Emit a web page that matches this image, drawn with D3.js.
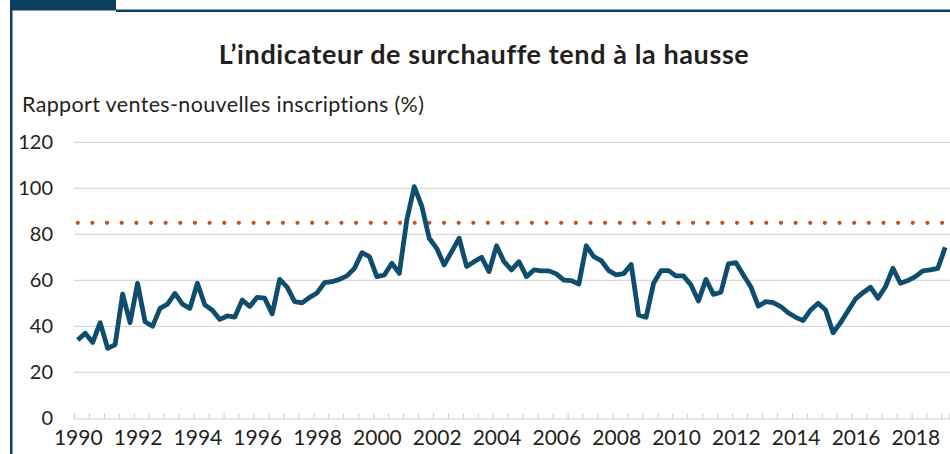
<!DOCTYPE html>
<html>
<head>
<meta charset="utf-8">
<script src="https://cdn.jsdelivr.net/npm/d3@7"></script>
<style>
  body { margin: 0; background: #fff; }
  svg text { font-family: Lato, "Open Sans", sans-serif; fill: #231f20; }
</style>
</head>
<body>
<div id="chart"></div>
<script>
// quarterly sales-to-new-listings ratio, 1990 T1 .. 2019 T1
var values = [
  34, 37, 33, 41.6, 30.4, 32, 54, 41.6, 58.7, 42, 40, 47.8, 49.6, 54.3, 49.6, 47.8,
  58.7, 49.3, 47, 43, 44.5, 44, 51.4, 48.6, 52.6, 52.2, 45.4, 60.4, 57, 50.7, 50.2, 52.6,
  54.5, 59, 59.4, 60.4, 61.9, 65.2, 72, 70.3, 61.6, 62.3, 67.4, 63, 86.2, 100.7, 92.3, 78.3,
  73.9, 66.7, 72.5, 78.3, 66, 68.1, 70, 63.8, 75, 68.1, 64.5, 68.1, 61.6, 64.5, 64.1, 64.1,
  62.8, 60.1, 59.9, 58.3, 75, 70.3, 68.6, 64.2, 62.4, 62.9, 66.9, 44.9, 43.9, 58.7, 64.2, 64.2,
  61.9, 61.9, 58, 51, 60.4, 53.9, 54.8, 67.1, 67.7, 62.3, 57.2, 48.8, 50.7, 50.3, 48.6, 45.9,
  43.9, 42.5, 47.1, 50, 47.1, 37.2, 41.6, 46.8, 51.9, 54.6, 57, 52.2, 57.2, 65.2, 58.7, 59.9,
  61.6, 64.1, 64.5, 65.2, 74.3
];
var yearLabels = ["1990","1992","1994","1996","1998","2000","2002","2004","2006","2008",
                  "2010","2012","2014","2016","2018"];
var yTicks = [0, 20, 40, 60, 80, 100, 120];
var threshold = 85;

var w = 950, h = 454;
var margin = { left: 74, right: 1, top: 142.3, bottom: 418.3 };

var svg = d3.select("#chart")
  .append("svg")
  .attr("width", w)
  .attr("height", h);

// frame: tab, top rule, left rule
svg.append("rect").attr("x", 10).attr("y", 0).attr("width", 106).attr("height", 10.5).attr("fill", "#0d3f61");
svg.append("rect").attr("x", 116).attr("y", 9.5).attr("width", w - 116).attr("height", 2.5).attr("fill", "#0d3f61");
svg.append("rect").attr("x", 10).attr("y", 0).attr("width", 2.5).attr("height", h).attr("fill", "#0d3f61");

var x = d3.scaleLinear()
  .domain([-0.5, values.length - 0.5])
  .range([margin.left, w - margin.right]);

var y = d3.scaleLinear()
  .domain([0, 120])
  .range([margin.bottom, margin.top]);

// titles
svg.append("text")
  .attr("x", 484).attr("y", 64)
  .attr("text-anchor", "middle")
  .style("font-size", "27px")
  .style("font-weight", "bold")
  .style("letter-spacing", "0.6px")
  .text("L\u2019indicateur de surchauffe tend à la hausse");

svg.append("text")
  .attr("x", 22).attr("y", 112)
  .style("font-size", "21.5px")
  .style("letter-spacing", "0.35px")
  .text("Rapport ventes-nouvelles inscriptions (%)");

// gridlines
svg.append("g")
  .selectAll("line")
  .data(yTicks.filter(function(d){ return d > 0; }))
  .enter()
  .append("line")
  .attr("x1", margin.left).attr("x2", w)
  .attr("y1", function(d){ return y(d); })
  .attr("y2", function(d){ return y(d); })
  .attr("stroke", "#d9d9d9")
  .attr("stroke-width", 1.3);

// y axis labels
var yAxis = svg.append("g")
  .attr("transform", "translate(53,0)")
  .call(d3.axisLeft(y).tickValues(yTicks).tickSize(0).tickPadding(0));
yAxis.select(".domain").remove();
yAxis.selectAll("text")
  .style("font-size", "20px")
  .style("font-family", "Lato, sans-serif")
  .attr("fill", "#231f20");

// x axis: ticks between quarters, every second quarter
var tickIdx = d3.range(-0.5, values.length, 2);
var xTicks = svg.append("g")
  .attr("transform", "translate(0," + y(0) + ")")
  .call(d3.axisBottom(x).tickValues(tickIdx).tickSize(-5).tickFormat(""));
xTicks.select(".domain").attr("stroke", "#d9d9d9").attr("stroke-width", 1.3);
xTicks.selectAll(".tick line").attr("stroke", "#c8c8c8");

// x labels every 8 quarters, centred on the quarter
var xLabels = svg.append("g")
  .attr("transform", "translate(0," + y(0) + ")")
  .call(d3.axisBottom(x)
    .tickValues(yearLabels.map(function(d, i){ return i * 8; }))
    .tickSize(0).tickPadding(12)
    .tickFormat(function(d, i){ return yearLabels[i]; }));
xLabels.select(".domain").remove();
xLabels.selectAll("text")
  .style("font-size", "21px")
  .style("font-family", "Lato, sans-serif")
  .attr("fill", "#231f20");

// overheating threshold
svg.append("line")
  .attr("x1", x(0)).attr("x2", x(values.length - 1))
  .attr("y1", y(threshold)).attr("y2", y(threshold))
  .attr("stroke", "#c4502a")
  .attr("stroke-width", 4.2)
  .attr("stroke-linecap", "round")
  .attr("stroke-dasharray", "0,14.65");

// series
var line = d3.line()
  .x(function(d, i){ return x(i); })
  .y(function(d){ return y(d); });

svg.append("path")
  .datum(values)
  .attr("d", line)
  .attr("fill", "none")
  .attr("stroke", "#0e4d6e")
  .attr("stroke-width", 4.8)
  .attr("stroke-linejoin", "round");
</script>
</body>
</html>
